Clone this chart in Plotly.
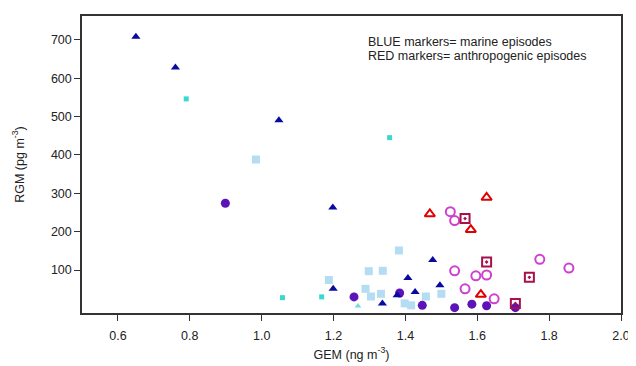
import plotly.graph_objects as go

# Navy filled triangles (marine)
tri_x = [0.65, 0.76, 1.048, 1.198, 1.476, 1.407, 1.199, 1.496, 1.427, 1.377, 1.336]
tri_y = [708, 628, 490, 263, 126, 79, 51, 60, 43, 34, 13]

# Purple filled circles
pc_x = [0.899, 1.257, 1.384, 1.447, 1.537, 1.585, 1.626, 1.706]
pc_y = [274, 30, 40, 8, 2, 11, 7, 2]

# Light blue squares
lb_x = [0.984, 1.382, 1.298, 1.337, 1.187, 1.289, 1.304, 1.332, 1.398, 1.416, 1.457, 1.500]
lb_y = [388, 151, 97, 98, 74, 51, 31, 38, 13, 8, 31, 38]

# Small turquoise squares
cy_x = [0.79, 1.356, 1.058, 1.167]
cy_y = [546, 445, 28, 30]

# Small turquoise triangle
ct_x = [1.268]
ct_y = [6]

# Red open triangles (anthropogenic)
rt_x = [1.626, 1.468, 1.582, 1.610]
rt_y = [289, 246, 205, 36]

# Magenta open circles
mc_x = [1.525, 1.537, 1.537, 1.566, 1.596, 1.626, 1.647, 1.774, 1.855]
mc_y = [252, 229, 98, 51, 85, 87, 25, 128, 105]

# Dark red open squares with dot
rs_x = [1.566, 1.626, 1.745, 1.706]
rs_y = [234, 121, 81, 13]

x_ticks = [0.6, 0.8, 1.0, 1.2, 1.4, 1.6, 1.8, 2.0]
y_ticks = [100, 200, 300, 400, 500, 600, 700]

note_lines = ["BLUE markers= marine episodes", "RED markers= anthropogenic episodes"]

FONT = "Liberation Sans, Arial"
FS = 12.5

fig = go.Figure()
fig.add_trace(go.Scatter(x=lb_x, y=lb_y, mode="markers",
                         marker=dict(symbol="square", size=8, color="#b4dcf2")))
fig.add_trace(go.Scatter(x=cy_x, y=cy_y, mode="markers",
                         marker=dict(symbol="square", size=5, color="#3ad8d0")))
fig.add_trace(go.Scatter(x=ct_x, y=ct_y, mode="markers",
                         marker=dict(symbol="triangle-up", size=6, color="#7ad8e0")))
fig.add_trace(go.Scatter(x=pc_x, y=pc_y, mode="markers",
                         marker=dict(symbol="circle", size=9, color="#5c14b8")))
fig.add_trace(go.Scatter(x=tri_x, y=tri_y, mode="markers",
                         marker=dict(symbol="triangle-up", size=8, color="#0a0aa0")))
fig.add_trace(go.Scatter(x=rt_x, y=rt_y, mode="markers",
                         marker=dict(symbol="triangle-up-open", size=9, color="#e00000",
                                     line=dict(width=2))))
fig.add_trace(go.Scatter(x=mc_x, y=mc_y, mode="markers",
                         marker=dict(symbol="circle-open", size=9, color="#d040d0",
                                     line=dict(width=2))))
fig.add_trace(go.Scatter(x=rs_x, y=rs_y, mode="markers",
                         marker=dict(symbol="square-open-dot", size=9, color="#a8104a",
                                     line=dict(width=2))))

axis_common = dict(showline=True, linecolor="#333333", linewidth=1.5, mirror=True,
                   ticks="outside", ticklen=6, tickcolor="#333333", tickwidth=1,
                   showgrid=False, zeroline=False,
                   tickfont=dict(family=FONT, size=FS, color="#222222"))

# The page body has an 8px default margin, so the figure is sized to fit the window.
W, H = 628, 358
L, R, T, B = 74, 9, 6, 51
plot_h = H - T - B

def paper_y(fig_px):
    return 1 - (fig_px - T) / plot_h

fig.update_layout(
    width=W, height=H,
    margin=dict(l=L, r=R, t=T, b=B),
    paper_bgcolor="white", plot_bgcolor="white",
    showlegend=False,
    font=dict(family=FONT, size=FS, color="#222222"),
    xaxis=dict(range=[0.5, 2.0], tickvals=x_ticks,
               ticktext=[f"{v:.1f}" for v in x_ticks],
               ticklabelstandoff=4,
               title=dict(text="GEM (ng m<sup>-3</sup>)", standoff=8,
                          font=dict(size=FS)), **axis_common),
    yaxis=dict(range=[-12, 762], tickvals=y_ticks,
               title=dict(text="RGM (pg m<sup>-3</sup>)", standoff=24,
                          font=dict(size=FS)), **axis_common),
    annotations=[
        dict(x=(361 - L) / (W - L - R), y=paper_y(32 + 15 * i), xref="paper", yref="paper",
             showarrow=False, text=t, xanchor="left", yanchor="middle", align="left",
             font=dict(size=FS, color="#222222"))
        for i, t in enumerate(note_lines)
    ],
)

fig.write_html("out.html")
